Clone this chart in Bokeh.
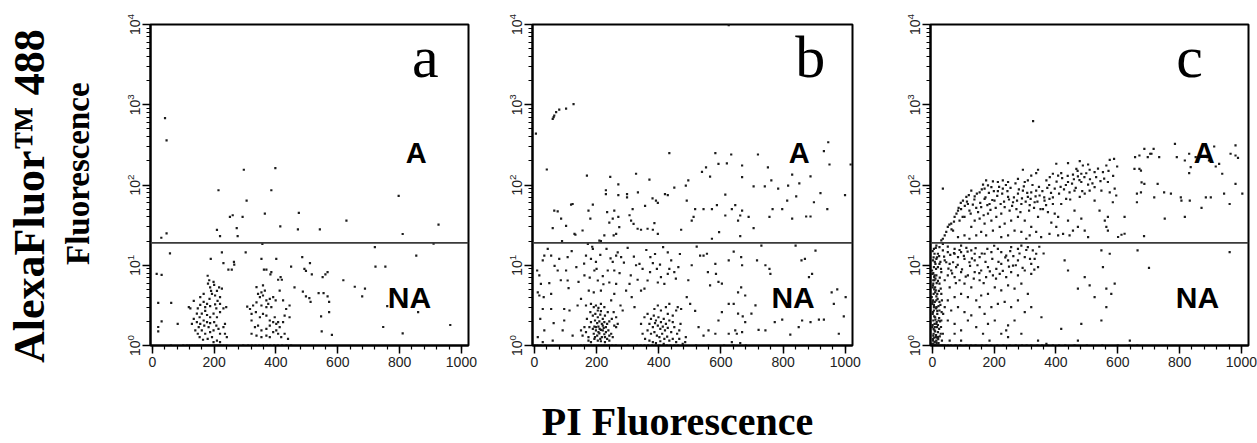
from bokeh.plotting import figure
from bokeh.layouts import row, column
from bokeh.models import Range1d, FixedTicker, LogTickFormatter, Span, Div
from bokeh.core.properties import value
from bokeh.embed import file_html
from bokeh.resources import INLINE

# ---------------- data (PI fluorescence, AlexaFluor 488 fluorescence) ----------------
# Panel a
a_upper = [(41,680),(46,359),(296,155),(398,162),(214,86),(385,86),(305,64),(251,40),(260,42),(292,40),
           (209,27.6),(219,23),(273,29),(276,23),(29,22),(46,25),(364,44),(414,30.5),(474,45),(471,28),
           (542,28),(628,36),(797,73),(810,24.5),(926,32),(356,18.5),(910,18.6)]
a_lower = [(57,14.1),(30,7.6),(14,7.8),(19,3.4),(61,3.4),(30,2.0),(19,1.7),(19,1.5),(82,1.86),(225,14.5),
           (189,12.0),(230,10.6),(246,8.8),(257,8.8),(264,11),(265,10.2),(302,14.5),(353,12),(401,12),(361,8.8),
           (369,8.8),(385,8.2),(382,7.7),(415,7.1),(407,6.6),(419,6.6),(449,9.6),(485,12.6),(492,9.0),(497,8.5),
           (510,10.6),(516,7.7),(551,7.1),(560,7.7),(567,8.2),(460,5.3),(487,4.7),(497,4.1),(508,3.9),(512,3.5),
           (538,4.5),(554,4.5),(567,4.1),(572,3.5),(572,2.6),(546,2.3),(548,1.5),(581,1.36),(618,6.5),(655,5.4),
           (679,4.1),(688,5.1),(722,9.6),(754,9.6),(720,16.8),(747,1.7),(810,1.42),(760,3.1),(854,13.2),(860,2.6),
           (964,1.8)]
a_cluster1 = [(179,7.4),(184,6.5),(180,5.9),(187,5.3),(198,6.2),(200,5.7),(209,4.8),(216,5.3),(225,5.1),(190,4.8),
              (193,4.4),(203,4.2),(185,3.8),(177,3.3),(166,3.5),(155,3.2),(147,2.9),(134,3.6),(123,2.9),(118,3.0),
              (144,2.5),(153,2.25),(160,2.5),(171,2.7),(177,2.4),(187,2.25),(198,2.5),(209,2.25),(219,2.6),(230,2.9),
              (239,3.0),(211,3.6),(219,3.3),(207,2.9),(166,2.05),(155,1.86),(144,1.95),(150,1.69),(160,1.54),(171,1.40),
              (182,1.69),(187,1.47),(198,1.54),(207,1.77),(214,1.61),(219,1.40),(230,1.69),(235,1.40),(193,1.27),(179,1.21),
              (164,1.18),(153,1.27),(198,1.1),(209,1.15),(219,1.1),(147,1.40),(139,1.54),(134,2.15),(128,1.86),(168,1.77),
              (177,1.95),(187,1.9),(200,1.95),(171,3.0),(187,3.1),(203,3.25),(219,4.0),(235,1.86),(241,1.27),(166,4.4),
              (155,4.0)]
a_cluster2 = [(337,5.33),(342,4.4),(348,4.0),(353,4.6),(358,4.2),(364,4.84),(369,3.64),(375,3.3),(380,3.8),(391,4.0),
              (399,3.64),(385,3.0),(369,3.0),(353,3.15),(337,3.45),(326,3.15),(316,2.85),(321,2.48),(335,2.6),(348,2.25),
              (358,2.48),(369,2.36),(380,2.05),(391,1.95),(401,1.86),(396,2.25),(407,1.95),(412,1.69),(401,1.54),(380,1.77),
              (369,1.61),(353,1.54),(342,1.77),(332,1.69),(321,1.40),(337,1.33),(353,1.27),(369,1.33),(380,1.27),(391,1.47),
              (407,1.40),(417,1.27),(423,1.95),(428,2.36),(433,2.85),(444,3.15),(444,2.25),(428,1.40),(439,1.21),(321,2.05),
              (307,3.05),(423,3.64),(412,4.84),(358,5.6)]
a_floor = [60,100,112,120,128,136,144,150,156,162,168,174,180,186,192,198,204,210,216,222,230,240,
           294,310,322,334,346,358,370,382,394,406,420,434,449]

# Panel b
b_upper = [(59,668),(64,735),(70,809),(80,869),(102,893),(126,1020),(62,700),(5,437),(40,156),(169,131),
           (244,126),(270,102),(230,86),(230,77),(270,75),(298,77),(298,70),(327,138),(333,81),(370,117),
           (380,68),(420,77),(429,75),(434,249),(450,93),(625,9800),
           (391,64),(397,60),(118,57),(123,58),(188,57),(75,47),(86,38),(102,31),(132,24),(59,29),
           (180,38),(174,48),(234,46),(241,34),(252,38),(270,40),(257,48),(263,24.6),(255,23.5),(306,42),
           (316,50),(319,32.8),(332,28.5),(343,27.7),(356,55),(364,28.5),(381,27.7),(386,33.5),(397,24.6),(311,36),
           (273,29.8),(225,23.5),(209,20.3),(214,20),(89,20),(472,27.7),(64,48),(129,24.6),(155,27.1),
           (582,249),(552,166),(539,146),(565,127),(592,183),(619,186),(633,240),(668,175),(668,125),(719,240),
           (751,166),(705,96),(741,96),(762,114),(784,90),(816,98),(829,135),(852,105),(888,128),(920,79),
           (945,341),(931,265),(949,180),(999,75),(1017,180),(942,50),(899,61),(842,72),(813,64),(797,50),
           (766,50),(756,40),(829,38),(874,40.5),(888,40.5),(705,29),(689,40),(662,41.7),(668,48),(655,36),
           (646,56),(635,50),(614,41.7),(587,56),(614,76),(571,50),(544,50),(517,50),(512,40),(490,64),
           (487,98),(495,114),(506,36),(594,25.8),(662,23),(571,21.4)]
b_lower = [(522,17.1),(533,13.2),(544,13.2),(555,13.9),(582,10.4),(584,7.8),(592,6.2),(603,5.9),(558,8.2),(565,5.6),
           (625,11.5),(641,14.8),(665,12.6),(668,10),(665,5.3),(678,4.2),(655,4.6),(641,3.3),(655,2.5),(670,2.3),
           (678,1.95),(668,1.47),(646,1.54),(625,3.3),(603,2.6),(592,2.05),(582,1.4),(560,1.54),(544,1.33),(528,1.69),
           (517,2.7),(501,3.3),(490,4.0),(495,6.5),(506,10),(487,1.27),(485,1.1),(716,11.5),(743,10),(756,9.0),
           (759,7.8),(730,17.6),(840,17.6),(859,11.5),(870,12),(893,7.8),(904,15.2),(883,7.1),(743,1.54),(773,1.95),
           (797,2.1),(823,1.37),(850,1.69),(861,2.05),(888,1.95),(915,2.1),(931,2.1),(956,4.6),(963,3.3),(974,5.0),
           (1001,4.0),(995,2.3),(979,1.4),(698,2.5),(711,3.16),(721,1.57),(625,1.4),(651,1.4),(662,1.07),(635,1.1),
           (9,8.6),(16,7.5),(27,11.5),(32,13.2),(43,16),(54,13.2),(21,5.87),(11,4.6),(16,4.2),(30,4.0),
           (54,4.4),(27,2.85),(54,2.85),(19,2.15),(32,1.54),(62,1.9),(11,1.27),(27,1.1),(59,1.15),(75,8.6),
           (80,12),(102,8.6),(107,6.46),(96,2.85),(113,2.73),(96,2.05),(91,1.54),(123,1.33),(107,12.6),(172,18.5),
           (166,13.2),(188,16),(182,12),(198,11),(193,8.6),(161,7.5),(150,3.8),(139,3.15),(166,3.15),(175,4.84),
           (191,4.6),(214,4.84),(204,6.46),(220,7.3),(236,8.6),(241,6.1),(252,11),(263,13.2),(268,14.5),(279,12.6),
           (257,8.6),(263,5.87),(257,4.4),(247,3.64),(277,3.15),(284,2.73),(295,4.84),(306,5.87),(313,4.0),(322,3.0),
           (327,10),(338,10.4),(343,4.84),(354,5.1),(364,6.46),(373,12.6),(381,10.6),(394,9.0),(397,6.1),(407,7.1),
           (418,5.87),(429,7.8),(429,14.5),(434,9.0),(450,8.2),(463,9.5),
           (120,15),(135,9.5),(142,6.2),(160,10.5),(178,7.0),(186,17.0),(200,9.0),(212,13.5),(222,5.8),(232,16.0),
           (245,12.2),(274,8.0),(288,10.8),(300,16.5),(310,7.5),(320,12.8),(332,6.6),(348,9.0),(360,15.5),(372,8.2),
           (388,13.8),(404,10.2),(414,16.8),(440,11.5),(455,6.8),(468,13.8),(110,5.2),(85,6.5),(65,9.8),(48,6.0)]
b_cluster1 = [(182,3.3),(191,3.0),(198,3.15),(206,2.95),(214,3.3),(225,3.0),(180,2.6),(188,2.36),(196,2.48),(204,2.25),
              (212,2.43),(220,2.15),(227,2.36),(236,2.6),(195,2.05),(202,1.9),(209,2.0),(217,1.86),(225,1.95),(234,1.86),
              (241,2.0),(249,2.15),(257,1.77),(263,1.69),(182,1.95),(177,1.69),(188,1.61),(198,1.54),(206,1.72),(214,1.57),
              (223,1.66),(230,1.47),(238,1.54),(247,1.40),(191,1.40),(202,1.33),(209,1.42),(217,1.27),(225,1.38),(234,1.21),
              (193,1.21),(204,1.15),(214,1.13),(227,1.1),(241,1.15),(252,1.27),(182,1.1),(174,1.27),(166,1.47),(161,1.69),
              (155,1.33),(150,1.54),(169,2.15),(255,2.6),(263,2.25),(268,1.86),(204,2.73),(214,2.68),(174,1.15),(210,1.61),
              (220,1.54),(198,1.69),(206,1.47),(195,1.27),(212,1.21),(230,1.69),(193,1.72),(220,1.77),(227,1.27),(241,1.33)]
b_cluster2 = [(354,2.25),(364,2.48),(375,2.15),(384,2.36),(391,2.05),(399,2.25),(407,1.95),(416,2.15),(423,1.86),(434,2.05),
              (445,2.36),(456,2.73),(461,3.0),(472,2.85),(370,1.86),(381,1.69),(388,1.9),(397,1.77),(405,1.61),(413,1.72),
              (420,1.54),(429,1.66),(440,1.47),(450,1.69),(459,1.40),(466,1.54),(364,1.54),(375,1.40),(386,1.47),(394,1.33),
              (402,1.27),(411,1.40),(418,1.21),(427,1.29),(434,1.15),(445,1.21),(456,1.1),(466,1.21),(477,1.05),(356,1.21),
              (370,1.15),(381,1.1),(391,1.07),(405,1.13),(416,1.05),(343,1.86),(348,1.40),(386,2.85),(397,3.15),(407,2.73),
              (423,3.0),(434,3.3),(429,2.48),(445,1.95),(470,1.86)]
b_floor = [2,10,20,35,150,160,168,176,184,192,200,208,216,224,232,240,250,262,300,
           330,342,354,366,378,390,402,414,426,438,450,462,520,560,610,640,680]

# Panel c
c_upper = [(326,624),(439,187),(477,198),(487,175),(504,180),(563,175),(574,206),(588,212),(509,155),(525,145),
           (552,145),(466,159),(455,135),(471,128),(482,138),(417,141),(407,131),(390,138),(380,125),(369,114),
           (342,155),(336,141),(320,131),(293,155),(309,114),(299,109),(277,119),(245,109),(228,114),(212,109),
           (196,111),(174,114),(180,99),(164,101),(401,184),(439,109),(482,109),(504,101),(525,94),(547,85),
           (568,109),(590,90),(574,81),(34,90),
           (126,85),(110,71),(99,64),(115,58),(137,72),(153,81),(169,90),(191,94),(212,84),(228,90),
           (201,64),(185,58),(169,67),(158,53),(142,52),(120,48),(93,50),(83,48),(245,71),(261,61),
           (277,78),(293,85),(309,71),(320,81),(336,85),(347,74),(331,61),(315,56),(288,58),(272,50),
           (250,48),(234,53),(223,44),(207,40),(180,44),(191,36),(169,33),(153,38),(137,36),(126,30),
           (104,40),(88,36),(72,40),(61,33),(50,30),(67,27),(45,26),(34,21.4),(40,23.5),(29,20.4),
           (83,22.4),(104,23.5),(120,21.4),(142,23.5),(158,26),(174,23.5),(196,27),(218,30),(234,33),(255,36),
           (277,40),(299,36),(320,30),(342,40),(358,50),(363,64),(379,67),(390,58),(374,46),(396,44),
           (407,40),(385,34),(401,30),(417,58),(433,67),(444,81),(460,85),(477,71),(493,78),(509,85),
           (525,64),(541,48),(558,36),(568,40),(563,30),(595,74),(584,61),(460,48),(482,38),(471,30),
           (455,27),(439,36),(423,24.6),(336,26),(315,23.5),(288,26),(266,27),(245,23.5),(223,22.4),(304,21.4),
           (352,22.4),(379,24.6),(407,23.5),(444,23.5),(493,27),(504,22.4),(568,27),
           (656,222),(670,233),(686,282),(697,222),(709,245),(705,245),(716,282),(734,222),(654,159),(670,159),
           (675,151),(677,108),(686,103),(729,103),(718,70),(662,78),(675,81),(772,78),(785,326),(791,222),
           (804,70),(817,202),(831,141),(836,167),(852,222),(858,206),(890,222),(895,202),(912,302),(917,170),
           (928,183),(938,138),(965,245),(981,233),(989,218),(981,311),(981,103),(1003,78),(944,78),(901,70),
           (750,81),(831,245),(885,70),(622,40),(752,38),(817,40),(871,52),(962,58),(685,23),(612,24),
           (622,24.7),(601,22.5),(833,64),(806,64),(662,61)]
c_arc = [(55,32),(62,28),(70,35),(78,44),(85,52),(92,60),(98,40),(105,55),(112,62),(118,75),
         (124,44),(131,57),(136,66),(144,78),(148,46),(155,60),(160,88),(166,42),(172,70),(178,56),
         (183,80),(188,49),(194,65),(199,84),(205,52),(210,73),(216,95),(221,58),(226,78),(232,62),
         (238,100),(243,84),(248,66),(253,92),(258,55),(264,70),(269,105),(274,64),(280,88),(285,46),
         (290,68),(296,96),(302,62),(307,80),(313,48),(318,67),(324,100),(329,52),(334,72),(340,62),
         (345,95),(350,50),(356,84),(362,70),(368,56),(372,92),(378,100),(384,80),(390,70),(396,90),
         (402,110),(410,78),(415,95),(420,122),(426,88),(432,100),(438,130),(446,66),(452,104),(458,118),
         (464,92),(470,150),(476,115),(485,84),(492,125),(498,140),(510,118),(518,105),(530,125),(536,160),
         (544,112),(556,120),(570,150),(585,130),(598,170)]
c_lower = [(13,17.6),(23,16.8),(34,18.5),(50,17.1),(72,16.0),(93,17.6),(110,16.5),(126,15.3),(137,13.9),(93,14.6),
           (72,13.9),(50,14.6),(34,15.3),(18,13.9),(13,12.0),(23,10.4),(40,11.5),(56,10.4),(67,10.9),(83,12.6),
           (104,12.0),(120,10.9),(137,11.5),(153,12.6),(169,13.9),(191,14.6),(212,16.0),(223,14.6),(239,13.2),(255,16.8),
           (277,16.0),(288,17.6),(309,16.8),(325,15.3),(336,13.9),(245,11.5),(261,9.9),(277,11.5),(299,12.6),(320,10.4),
           (331,12.0),(342,9.5),(223,10.4),(207,9.0),(180,9.5),(158,8.6),(137,8.2),(115,7.5),(93,8.2),(77,9.5),
           (61,8.6),(50,7.5),(29,8.2),(13,7.5),(7,6.5),(23,5.9),(40,6.5),(56,5.3),(72,7.1),(88,6.5),
           (104,5.9),(126,5.3),(153,6.5),(174,7.1),(196,7.5),(218,7.8),(239,7.1),(255,8.2),(277,7.5),(299,8.6),
           (320,7.8),(245,5.6),(266,5.1),(288,5.9),(309,4.4),(223,4.85),(202,5.3),(180,4.4),(158,4.2),(142,3.64),
           (115,4.0),(93,4.4),(72,4.0),(50,3.64),(29,4.4),(13,3.64),(7,3.0),(23,2.73),(40,3.0),(61,2.73),
           (83,3.0),(104,2.6),(126,2.37),(153,3.0),(169,2.48),(191,3.0),(212,3.3),(234,3.5),(255,3.0),(277,3.64),
           (299,2.6),(320,3.0),(353,2.25),(266,2.05),(245,1.78),(239,1.54),(223,1.40),(202,2.05),(180,1.86),(164,1.40),
           (142,1.69),(115,2.05),(93,1.54),(72,1.86),(50,2.05),(29,2.05),(13,1.86),(7,1.54),(18,1.27),(34,1.40),
           (56,1.15),(72,1.40),(93,1.15),(185,1.15),(245,1.27),(288,1.40),(342,1.15),(369,1.05),(417,1.61),(482,1.86),
           (471,1.15),(547,2.05),(563,3.0),(579,4.4),(590,5.9),(428,11.5),(439,8.6),(471,5.1),(493,7.1),(509,5.6),
           (525,4.0),(547,15.3),(574,13.9),(552,9.5),(563,5.1),(664,15.3),(962,14.6),(701,9.3),(639,1.15),
           (38,12.8),(45,10.9),(52,9.1),(58,13.5),(64,7.9),(70,14.2),(76,6.0),(82,10.1),(88,15.5),(96,8.9),
           (102,13.1),(108,7.2),(114,14.8),(122,9.8),(128,12.2),(134,6.8),(140,16.3),(146,10.0),(152,8.0),(160,14.0),
           (166,6.0),(172,11.0),(178,16.0),(186,8.4),(194,12.0),(200,17.5),(206,6.8),(214,11.0),(228,8.5),(236,12.5),
           (248,9.6),(252,15.0),(262,13.0),(270,10.0),(282,14.0),(292,9.3),(304,15.5),(316,12.0),(330,8.8),(346,17.0),
           (360,14.0)]
c_axisband = [(2,11.5),(5,9.5),(0,7.8),(3,6.5),(1,5.3),(4,4.4),(2,3.64),(5,3.0),(1,2.48),(3,2.05),
              (0,1.69),(4,1.40),(2,1.21),(7,1.1),(-1,1.05),(9,2.25),(11,4.85),(-2,4.0),(6,7.1),(-1,8.6),
              (10,10.4),(8,1.69),(16,2.48),(20,2.05),(15,1.69),(18,1.47),(13,1.15),(20,1.07),(27,1.40),(31,1.15),
              (23,3.5),(16,4.4),(27,5.1),(31,3.64),(35,2.48),(7,13.9),(5,16),(18,9.5),(9,5.3),(14,3.0),
              (22,1.61),(3,1.33),(12,1.27),(7,1.86),(5,2.73),(0,3.3),(3,5.9),
              (1,15.0),(4,12.5),(8,11.0),(12,9.0),(3,8.0),(7,7.5),(10,6.8),(14,6.0),(2,5.6),(6,5.0),
              (9,4.6),(13,4.1),(17,3.8),(1,3.5),(5,3.2),(8,3.5),(12,2.9),(16,2.7),(20,3.1),(2,2.6),
              (6,2.3),(10,2.1),(14,1.95),(18,1.8),(22,2.2),(1,1.8),(4,1.6),(9,1.5),(12,1.35),(16,1.25),
              (24,1.3),(28,1.7),(2,1.15),(6,1.25),(10,1.12),(3,1.05),(8,1.02),(14,1.08),(19,1.2),(25,2.0),
              (30,2.6),(26,3.2),(21,4.8),(18,6.4),(24,7.0),(28,9.0),(15,12.5),(22,13.0),(11,16.5),(26,11.0)]
c_floor = [0,3,6,9,12,15,18,22,26,30,35,40,50,60,75,90,110,125,140,160,175,190,210,230,250,270,
           290,305,320,340,355,372,390,410,430,460,500,550,600,637,663,960]

# axis ticks, gate, labels
x_major = [0, 200, 400, 600, 800, 1000]
x_minor = list(range(0, 1001, 40))
y_major = [1, 10, 100, 1000, 10000]
y_minor = [m * 10 ** e for e in range(4) for m in range(2, 10)]
gate_level = 19
panel_letters = ["a", "b", "c"]
gate_labels = ["A", "NA"]
y_title = ["AlexaFluor\u2122 488", "Fluorescence"]
x_title = "PI Fluorescence"

ROW_H = 375
DOT = "#1c1c1c"


def unzip(groups, floor):
    xs, ys = [], []
    for g in groups:
        for x, y in g:
            xs.append(x)
            ys.append(y)
    for x in floor:
        xs.append(x)
        ys.append(1.0)
    return xs, ys


def make_panel(groups, floor, letter, letter_x, a_x, na_x, b_left, frame_w, b_right):
    p = figure(width=b_left + frame_w + b_right, height=ROW_H,
               x_range=Range1d(-6, 1023), y_range=Range1d(1, 10000), y_axis_type="log",
               output_backend="svg", toolbar_location=None,
               min_border_left=b_left, min_border_right=b_right,
               min_border_top=24, min_border_bottom=30)
    p.xgrid.visible = False
    p.ygrid.visible = False
    p.outline_line_color = "black"
    p.outline_line_width = 2
    p.background_fill_color = "white"
    p.border_fill_color = "white"

    p.xaxis.ticker = FixedTicker(ticks=x_major, minor_ticks=x_minor)
    p.yaxis.ticker = FixedTicker(ticks=y_major, minor_ticks=y_minor)
    p.yaxis.formatter = LogTickFormatter()
    p.yaxis.major_label_orientation = "vertical"
    for ax in (p.xaxis[0], p.yaxis[0]):
        ax.axis_line_color = "black"
        ax.axis_line_width = 2
        ax.major_tick_line_color = "black"
        ax.major_tick_line_width = 1.5
        ax.minor_tick_line_color = "black"
        ax.minor_tick_line_width = 1.2
        ax.major_tick_in = 0
        ax.major_tick_out = 8
        ax.minor_tick_in = 0
        ax.minor_tick_out = 4
        ax.major_label_text_font = "Liberation Sans"
        ax.major_label_text_font_size = "14px"
        ax.major_label_text_color = "#222222"
        ax.major_label_standoff = 3

    xs, ys = unzip(groups, floor)
    p.scatter(xs, ys, marker="square", size=2.2, fill_color=DOT, line_color=None)

    p.add_layout(Span(location=gate_level, dimension="width", line_color="#3a3a3a", line_width=1.8))

    p.text(x=[letter_x], y=[3880], text=[letter], text_font=value("Liberation Serif"),
           text_font_size="60px", text_align="center", text_baseline="middle", text_color="black")
    p.text(x=[a_x], y=[247], text=[gate_labels[0]], text_font=value("Liberation Sans"),
           text_font_style="bold", text_font_size="29px", text_align="center",
           text_baseline="middle", text_color="black")
    p.text(x=[na_x], y=[3.96], text=[gate_labels[1]], text_font=value("Liberation Sans"),
           text_font_style="bold", text_font_size="30px", text_align="center",
           text_baseline="middle", text_color="black")
    return p


pa = make_panel([a_upper, a_lower, a_cluster1, a_cluster2], a_floor, panel_letters[0], 883, 854, 832, 42, 318, 34)
pb = make_panel([b_upper, b_lower, b_cluster1, b_cluster2], b_floor, panel_letters[1], 887, 852, 832, 30, 320, 44)
pc = make_panel([c_upper, c_arc, c_lower, c_axisband], c_floor, panel_letters[2], 832, 880, 858, 34, 318, 9)

# left: y axis title (two lines, rotated to read bottom-to-top), as HTML text
common = ("position:absolute; white-space:nowrap; transform-origin:0 0; transform:rotate(-90deg);"
          " font-family:'Liberation Serif'; font-weight:bold; color:black; margin:0; padding:0;")
ytitle_html = (
    "<div style=\"position:relative; width:108px; height:375px; overflow:visible;\">"
    f"<div style=\"{common} left:8px; top:363px; font-size:44px; line-height:44px;\">{y_title[0]}</div>"
    f"<div style=\"{common} left:62px; top:265px; font-size:33px; line-height:33px;\">{y_title[1]}</div>"
    "</div>"
)
lab = Div(text=ytitle_html, width=108, height=ROW_H, margin=(0, 0, 0, 0))

# bottom: x axis title
bot = figure(width=1257, height=68, x_range=Range1d(0, 1257), y_range=Range1d(0, 68),
             output_backend="svg", toolbar_location=None, min_border=0,
             x_axis_location=None, y_axis_location=None)
bot.xgrid.visible = False
bot.ygrid.visible = False
bot.outline_line_color = None
bot.text(x=[677], y=[22], text=[x_title], text_font=value("Liberation Serif"),
         text_font_style="bold", text_font_size="40px", text_align="center",
         text_baseline="middle", text_color="black")

layout = column(row(lab, pa, pb, pc), bot)
open("out.html", "w").write(file_html(layout, INLINE))
